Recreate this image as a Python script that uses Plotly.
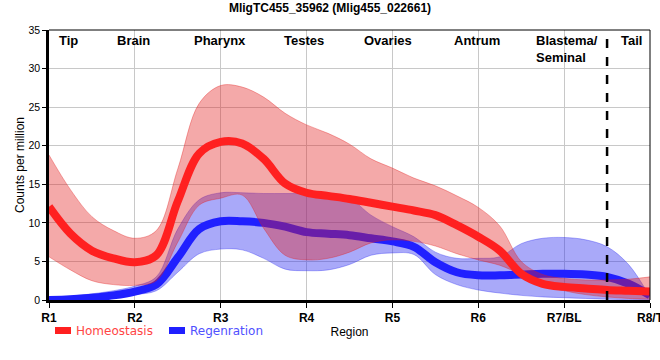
import plotly.graph_objects as go

# ---------------- data ----------------
title_text = "MligTC455_35962 (Mlig455_022661)"
x_pos = [1, 1.25, 1.5, 1.75, 2, 2.25, 2.5, 2.75, 3, 3.25, 3.5, 3.75, 4, 4.25, 4.5,
         4.75, 5, 5.25, 5.5, 5.75, 6, 6.25, 6.5, 6.75, 7, 7.25, 7.5, 7.75, 8]
tick_vals = [1, 2, 3, 4, 5, 6, 7, 8]
tick_text = ["R1", "R2", "R3", "R4", "R5", "R6", "R7/BL", "R8/T"]
region_names = ["Tip", "Brain", "Pharynx", "Testes", "Ovaries", "Antrum", "Blastema/<br>Seminal", "Tail"]
region_x = [1.23, 1.98, 2.99, 3.97, 4.95, 5.98, 6.65, 7.78]
tail_boundary = 7.5
series_names = ["Homeostasis", "Regenration"]

homeo_mean = [12.1, 8.6, 6.4, 5.4, 4.9, 5.8, 12.8, 19.0, 20.5, 20.3, 18.3, 15.1, 13.9, 13.5, 13.1,
              12.6, 12.1, 11.6, 11.0, 9.7, 8.2, 6.4, 3.4, 2.1, 1.7, 1.5, 1.3, 1.2, 1.1]
homeo_upper = [18.8, 14.3, 10.8, 9.0, 8.0, 9.0, 17.0, 25.5, 27.8, 27.6, 26.3, 24.2, 22.7, 21.6, 20.2,
               18.3, 17.1, 15.8, 14.8, 13.5, 12.0, 9.6, 5.0, 3.3, 2.8, 2.6, 2.6, 2.7, 3.0]
homeo_lower = [5.6, 3.9, 2.5, 2.0, 1.9, 2.5, 7.5, 12.3, 13.2, 13.6, 9.3, 5.8, 5.2, 5.4, 6.2,
               7.4, 7.8, 7.6, 7.0, 6.0, 5.2, 4.5, 3.3, 2.0, 1.2, 0.7, 0.4, 0.2, 0.1]

regen_mean = [0.0, 0.1, 0.3, 0.6, 1.1, 2.0, 5.5, 9.2, 10.2, 10.2, 10.0, 9.5, 8.8, 8.6, 8.4,
              8.0, 7.6, 6.9, 4.9, 3.6, 3.2, 3.2, 3.3, 3.4, 3.4, 3.3, 3.0, 2.1, 0.6]
regen_upper = [0.4, 0.5, 0.8, 1.2, 1.8, 3.0, 9.2, 13.0, 13.9, 13.9, 13.8, 13.8, 13.8, 13.8, 13.2,
               11.0, 9.5, 8.2, 6.2, 5.4, 5.4, 5.6, 7.3, 8.0, 8.1, 7.8, 6.9, 4.6, 0.4]
regen_lower = [-0.3, -0.2, 0.0, 0.3, 0.7, 1.2, 3.6, 6.0, 6.6, 6.5, 5.4, 4.0, 3.8, 3.9, 4.6,
               5.8, 6.1, 5.9, 3.3, 2.0, 1.3, 0.9, 0.6, 0.4, 0.3, 0.2, 0.1, 0.05, 0.0]

# ---------------- styles ----------------
RED_LINE = "#ff2020"
BLUE_LINE = "#2020ff"
RED_FILL = "rgba(225,30,30,0.38)"
BLUE_FILL = "rgba(40,40,240,0.40)"
RED_EDGE = "rgba(225,30,30,0.35)"
BLUE_EDGE = "rgba(40,40,240,0.35)"

fig = go.Figure()


def add_band(upper, lower, fill, edge):
    fig.add_trace(go.Scatter(x=x_pos, y=upper, mode="lines", line=dict(color=edge, width=1, shape="spline", smoothing=1),
                             showlegend=False, hoverinfo="skip"))
    fig.add_trace(go.Scatter(x=x_pos, y=lower, mode="lines", line=dict(color=edge, width=1, shape="spline", smoothing=1),
                             fill="tonexty", fillcolor=fill, showlegend=False, hoverinfo="skip"))


add_band(regen_upper, regen_lower, BLUE_FILL, BLUE_EDGE)
fig.add_trace(go.Scatter(x=x_pos, y=regen_mean, mode="lines", name=series_names[1],
                         line=dict(color=BLUE_LINE, width=8, shape="spline", smoothing=1), showlegend=False))
add_band(homeo_upper, homeo_lower, RED_FILL, RED_EDGE)
fig.add_trace(go.Scatter(x=x_pos, y=homeo_mean, mode="lines", name=series_names[0],
                         line=dict(color=RED_LINE, width=8, shape="spline", smoothing=1), showlegend=False))

# dashed tail boundary
fig.add_shape(type="line", xref="x", yref="paper", x0=tail_boundary, x1=tail_boundary, y0=0, y1=1,
              line=dict(color="black", width=2.5, dash="dash"))
# thin frame top/right
fig.add_shape(type="line", xref="paper", yref="paper", x0=0, x1=1, y0=1, y1=1, line=dict(color="black", width=1))
fig.add_shape(type="line", xref="paper", yref="paper", x0=1, x1=1, y0=0, y1=1, line=dict(color="black", width=1))

# region labels
for name, xv in zip(region_names, region_x):
    is_multi = "<br>" in name
    fig.add_annotation(x=xv, y=0.995, xref="x", yref="paper", text="<b>" + name + "</b>", showarrow=False,
                       xanchor="left" if is_multi else "center", yanchor="top", align="left",
                       font=dict(family="Arial", size=13, color="black"))

# manual legend
leg_colors = [RED_LINE, BLUE_LINE]
leg_text_colors = ["#ff4545", "#5050ff"]
leg_x0 = [55, 169]
for name, c, tc, x0 in zip(series_names, leg_colors, leg_text_colors, leg_x0):
    fig.add_shape(type="rect", xref="paper", yref="paper",
                  x0=(x0 - 49) / 601, x1=(x0 + 16 - 49) / 601,
                  y0=(300 - 334) / 270, y1=(300 - 327) / 270,
                  line=dict(width=0), fillcolor=c)
    fig.add_annotation(x=(x0 + 19 - 49) / 601, y=(300 - 330.5) / 270, xref="paper", yref="paper",
                       text=name, showarrow=False, xanchor="left", yanchor="middle",
                       font=dict(family="DejaVu Sans", size=12, color=tc))

fig.update_layout(
    width=660, height=360,
    margin=dict(l=49, r=10, t=30, b=60),
    paper_bgcolor="white", plot_bgcolor="white",
    title=dict(text="<b>" + title_text + "</b>", x=0.5, xanchor="center", y=1 - 8 / 360, yanchor="middle",
               yref="container", font=dict(family="Arial", size=12, color="black")),
    showlegend=False,
    xaxis=dict(range=[1, 8], tickvals=tick_vals, ticktext=tick_text, showgrid=True, gridcolor="#c8c8c8",
               gridwidth=1, zeroline=False, showline=True, linecolor="black", linewidth=2.5,
               ticks="outside", ticklen=5, tickcolor="black", tickwidth=1, ticklabeloverflow="allow",
               automargin=False,
               tickfont=dict(family="Arial", size=12, color="black", weight="bold"),
               title=dict(text="Region", font=dict(family="Arial", size=12, color="black"), standoff=4)),
    yaxis=dict(range=[0, 35], tickvals=[0, 5, 10, 15, 20, 25, 30, 35], showgrid=True, gridcolor="#c8c8c8",
               gridwidth=1, zeroline=False, showline=True, linecolor="black", linewidth=2.5,
               ticks="outside", ticklen=4, tickcolor="black", tickwidth=1, automargin=False,
               tickfont=dict(family="Arial", size=10.5, color="black"),
               title=dict(text="Counts per million", font=dict(family="Arial", size=12, color="black"), standoff=2)),
)

fig.write_html("out.html", config={"displayModeBar": False},
               post_script="document.body.style.margin='0';document.body.style.padding='0';")
